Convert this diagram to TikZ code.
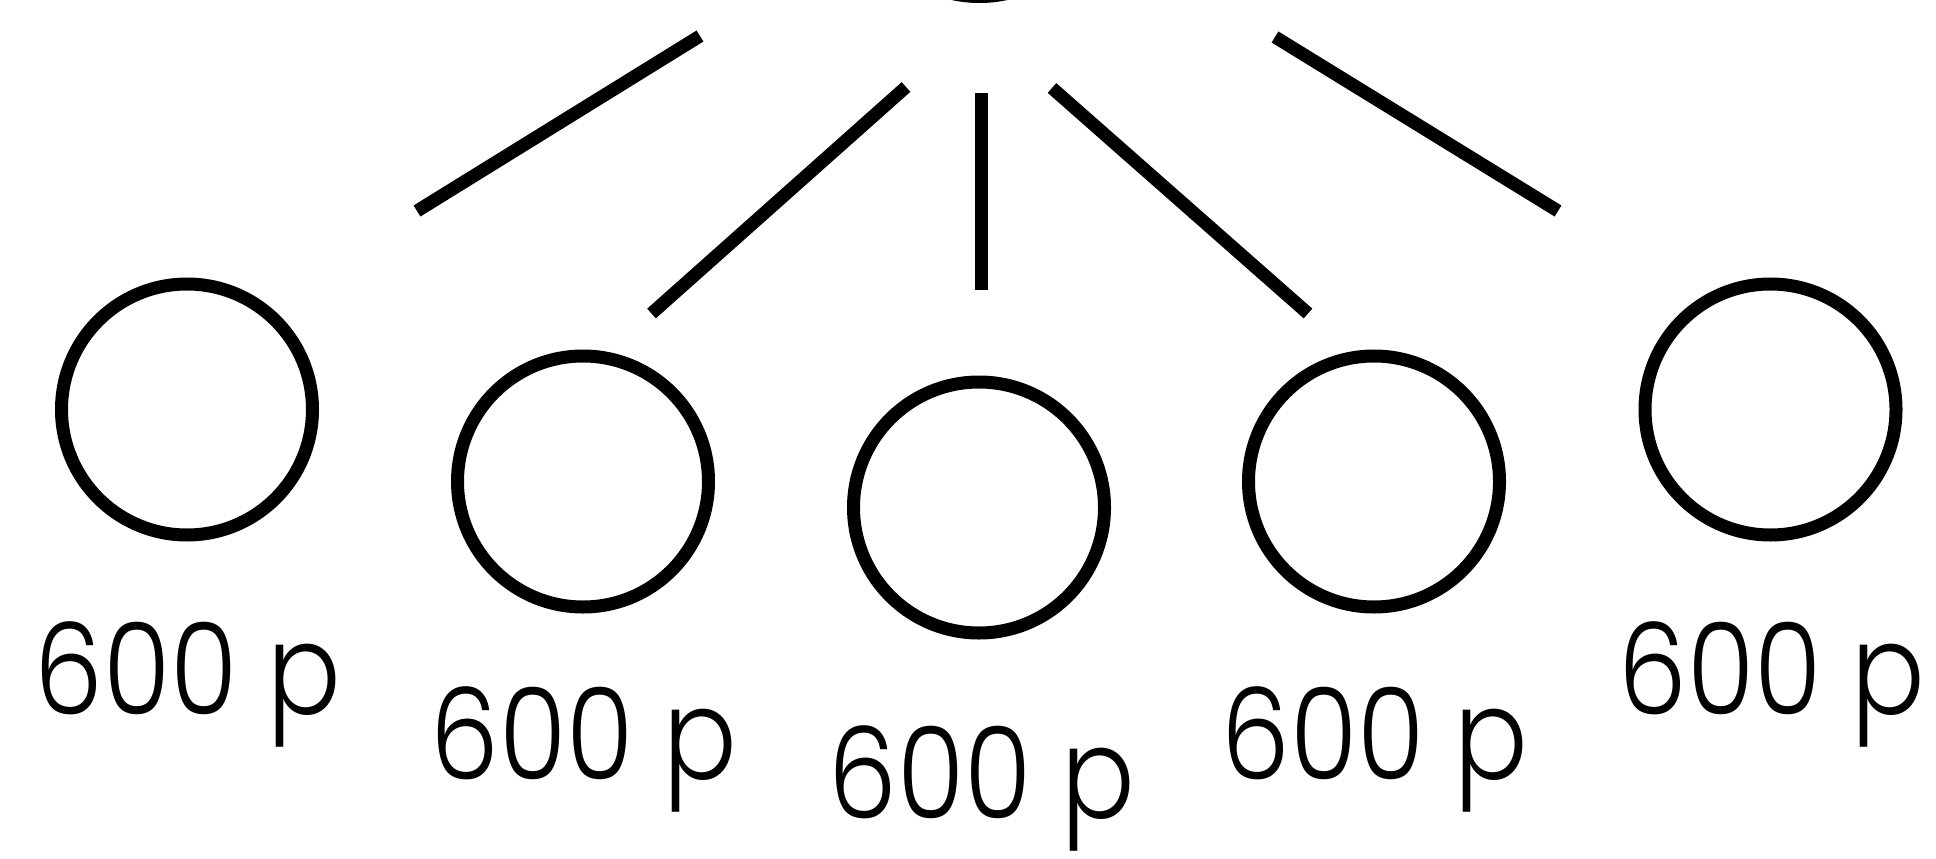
\documentclass[tikz,border=0pt]{standalone}
\usepackage{fontspec}
\setmainfont{Poppins Light}
\begin{document}
\begin{tikzpicture}[x=1pt,y=-1pt,
  ball/.style={circle,draw=black,line width=13pt,minimum size=251pt,inner sep=0pt},
  stroke/.style={draw=black,line width=13pt},
  lbl/.style={anchor=base,inner sep=0pt,font=\fontsize{127}{127}\selectfont,xscale=0.86}]
\useasboundingbox (0,0) rectangle (1936,859);
\clip (0,0) rectangle (1936,859);
\node[ball] (ct) at (979.5,-129) {};
\node[ball] (c1) at (187,409.5) {};
\node[ball] (c2) at (583,481.5) {};
\node[ball] (c3) at (979,507.5) {};
\node[ball] (c4) at (1374,481.5) {};
\node[ball] (c5) at (1770.5,409.5) {};
\node[lbl] (t1) at (188,714) {600 p};
\node[lbl] (t2) at (584,779) {600 p};
\node[lbl] (t3) at (982,818) {600 p};
\node[lbl] (t4) at (1375,779) {600 p};
\node[lbl] (t5) at (1772,714) {600 p};
\coordinate (a1) at (700,36);   \coordinate (b1) at (417,211);
\coordinate (a2) at (906,87);   \coordinate (b2) at (651.5,313.5);
\coordinate (a3) at (981,93);   \coordinate (b3) at (981,290);
\coordinate (a4) at (1052,88);  \coordinate (b4) at (1308,313.5);
\coordinate (a5) at (1275,37);  \coordinate (b5) at (1558,211);
\draw[stroke] (a1) -- (b1);
\draw[stroke] (a2) -- (b2);
\draw[stroke] (a3) -- (b3);
\draw[stroke] (a4) -- (b4);
\draw[stroke] (a5) -- (b5);
\end{tikzpicture}
\end{document}
